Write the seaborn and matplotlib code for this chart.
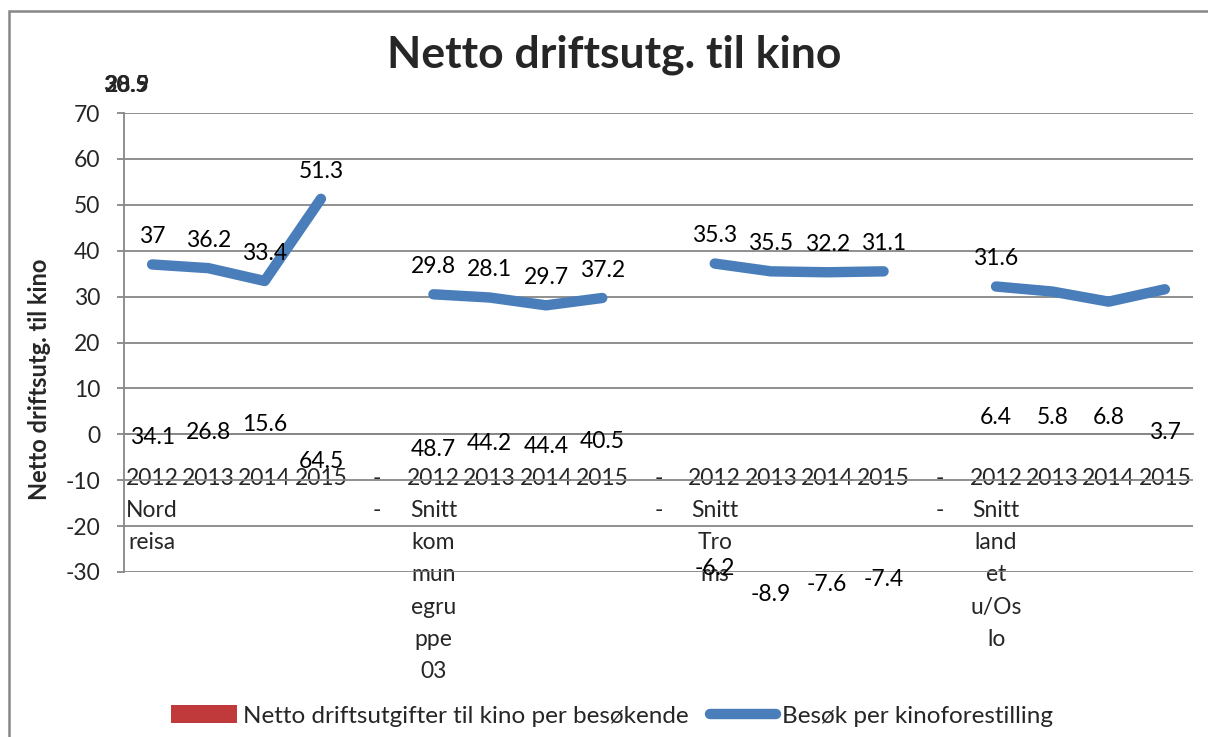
import numpy as np
import pandas as pd
import matplotlib
matplotlib.use("Agg")
import matplotlib.pyplot as plt
from matplotlib.patches import Patch, Rectangle
from matplotlib.lines import Line2D
import seaborn as sns

# ---- data ------------------------------------------------------------------
years = ["2012", "2013", "2014", "2015"]
groups = ["Nordreisa", "Snitt kommunegruppe 03", "Snitt Troms", "Snitt landet u/Oslo"]
# how Excel wrapped the group names under the 2012 label
group_wrapped = ["Nord\nreisa", "Snitt\nkom\nmun\negru\nppe\n03",
                 "Snitt\nTro\nms", "Snitt\nland\net\nu/Os\nlo"]

# Besøk per kinoforestilling (line), one list per group
besok = [
    [37.0, 36.2, 33.4, 51.3],
    [30.5, 29.8, 28.1, 29.7],
    [37.2, 35.5, 35.3, 35.5],
    [32.2, 31.1, 28.9, 31.6],
]
# the line data labels as they appear (Excel shifted them)
besok_labels = [
    ["37", "36.2", "33.4", "51.3"],
    ["29.8", "28.1", "29.7", "37.2"],
    ["35.3", "35.5", "32.2", "31.1"],
    ["31.6", "", "", ""],
]
stray_labels = ["28.9", "30.5"]

# Netto driftsutgifter til kino per besøkende (bars have no visible height)
netto = [
    [34.1, 26.8, 15.6, 64.5],
    [48.7, 44.2, 44.4, 40.5],
    [-6.2, -8.9, -7.6, -7.4],
    [6.4, 5.8, 6.8, 3.7],
]
# where the bar labels sit on the value axis
netto_label_y = [
    [-0.7, 0.4, 2.2, -5.9],
    [-3.3, -2.1, -2.6, -1.6],
    [-29.3, -35.0, -32.8, -31.7],
    [3.6, 3.6, 3.6, 0.3],
]

# ---- build a long table with a blank separator between groups ---------------
rows = []
tick_labels = []
pos = 0
for g, name in enumerate(groups):
    if g > 0:
        tick_labels.append("-\n-")
        pos += 1
    for k, yr in enumerate(years):
        rows.append(dict(pos=pos, group=name, year=yr, besok=besok[g][k],
                         besok_lab=besok_labels[g][k], netto=netto[g][k],
                         netto_y=netto_label_y[g][k]))
        tick_labels.append(yr + "\n" + group_wrapped[g] if k == 0 else yr)
        pos += 1
df = pd.DataFrame(rows)
n_cat = pos

# ---- figure -----------------------------------------------------------------
sns.set_theme(style="white")
plt.rcParams["font.family"] = ["Lato", "DejaVu Sans"]
plt.rcParams["axes.unicode_minus"] = False
grey = "#878787"
blue = "#4a7ebb"
red = "#c0393b"
fs = 16.5

fig = plt.figure(figsize=(12.08, 7.37), dpi=100)
ax = fig.add_axes([124 / 1208, 1 - 572 / 737, (1193 - 124) / 1208, (572 - 113) / 737])

sns.lineplot(data=df, x="pos", y="besok", units="group", estimator=None,
             color=blue, lw=7.5, solid_capstyle="round", ax=ax, legend=False)

for _, r in df.iterrows():
    if r.besok_lab:
        ax.annotate(r.besok_lab, (r.pos, r.besok), xytext=(0, 20),
                    textcoords="offset points", ha="center", va="center",
                    fontsize=fs, color="black")
    ax.text(r.pos, r.netto_y, f"{r.netto:g}", ha="center", va="center",
            fontsize=fs, color="black")

for s in stray_labels:
    ax.text(-0.46, 76, s, ha="center", va="center", fontsize=fs,
            fontweight="bold", clip_on=False)

ax.set_xlim(-0.5, n_cat - 0.5)
ax.set_ylim(-30, 70)
ax.set_yticks(np.arange(-30, 71, 10))
ax.yaxis.grid(True, color=grey, lw=1.3)
ax.set_axisbelow(True)

# category axis crosses at 0, ticks on boundaries, labels on centres
ax.spines["bottom"].set_position(("data", 0))
for side in ["top", "right"]:
    ax.spines[side].set_visible(False)
for side in ["left", "bottom"]:
    ax.spines[side].set_color(grey)
    ax.spines[side].set_linewidth(1.3)
ax.set_xticks(np.arange(-0.5, n_cat, 1.0))
ax.set_xticklabels([])
ax.set_xticks(np.arange(n_cat), minor=True)
ax.set_xticklabels(tick_labels, minor=True, fontsize=fs, linespacing=1.66, va="top")
ax.tick_params(axis="x", which="major", direction="out", length=6, width=1.3, color=grey)
ax.tick_params(axis="x", which="minor", length=0, pad=24)
ax.tick_params(axis="y", direction="out", length=5, width=1.3, color=grey,
               labelsize=fs, pad=12, left=True)
ax.set_xlabel("")
ax.set_ylabel("")

fig.text(40 / 1208, 1 - 379 / 737, "Netto driftsutg. til kino", rotation=90,
         ha="center", va="center", fontsize=17, fontweight="bold")
fig.text(614 / 1208, 1 - 55 / 737, "Netto driftsutg. til kino", ha="center",
         va="center", fontsize=32, fontweight="bold")

# outer chart border (runs off the right and bottom edge)
fig.patches.append(Rectangle((9 / 1208, -0.5), 2, 0.5 + 1 - 11 / 737,
                             transform=fig.transFigure, fill=False,
                             edgecolor=grey, lw=1.8))

handles = [Patch(facecolor=red, edgecolor="none"),
           Line2D([0], [0], color=blue, lw=7.5, solid_capstyle="round")]
fig.legend(handles, ["Netto driftsutgifter til kino per besøkende",
                     "Besøk per kinoforestilling"],
           loc="center", bbox_to_anchor=(612 / 1208, 1 - 716 / 737), ncol=2,
           frameon=False, fontsize=17.5, handlelength=2.7, handleheight=0.75,
           handletextpad=0.25, columnspacing=0.9)

fig.savefig("out.png", dpi=100)
